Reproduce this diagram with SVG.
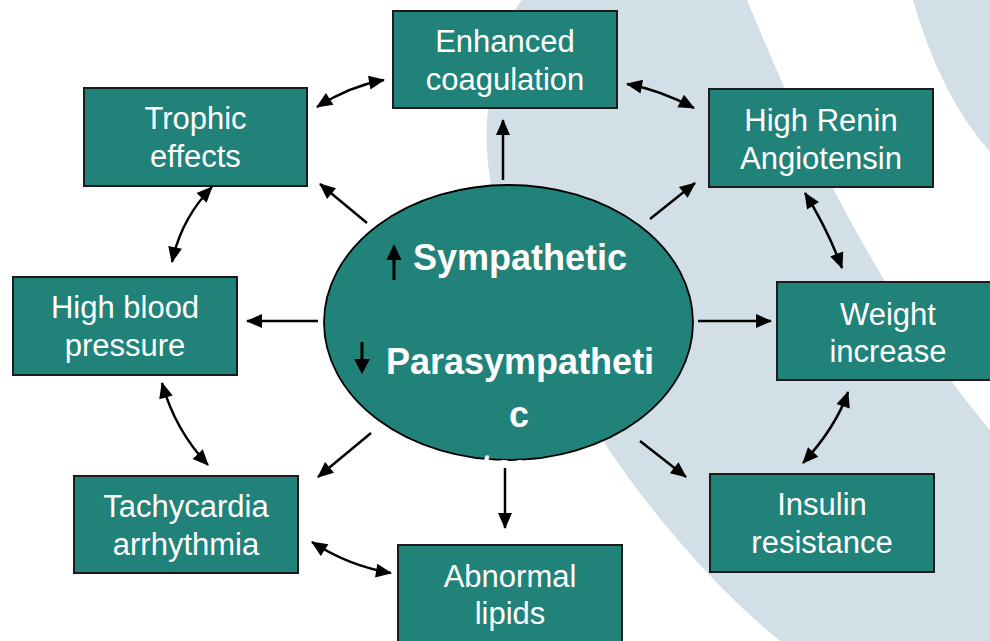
<svg xmlns="http://www.w3.org/2000/svg" width="990" height="641" viewBox="0 0 990 641">
  <defs>
    <style>
      .box { fill: #21827a; stroke: #1b1b1b; stroke-width: 2; }
      .hub { fill: #21827a; stroke: #000; stroke-width: 1.8; }
      .lbl { font-family: "Liberation Sans", Arial, sans-serif; font-size: 31px; fill: #fff; text-anchor: middle; }
      .hubtxt { font-family: "Liberation Sans", Arial, sans-serif; font-size: 36px; font-weight: bold; fill: #fff; }
      .link { fill: none; stroke: #000; stroke-width: 2.5; }
      .one { marker-end: url(#ah); }
      .two { marker-start: url(#ah); marker-end: url(#ah); }
    </style>
    <marker id="ah" markerUnits="userSpaceOnUse" markerWidth="16" markerHeight="14" refX="15" refY="7" orient="auto-start-reverse" overflow="visible">
      <path d="M0,0 L16,7 L0,14 z" fill="#000"/>
    </marker>
  </defs>

  <!-- page background with the pale swoosh bands -->
  <rect x="0" y="0" width="990" height="641" fill="#fff"/>
  <g id="backdrop" fill="#d2dfe6">
    <path d="M522,0 L747,0 C800,130 880,300 990,430 L990,641 L780,641 C620,510 470,260 488,110 C494,60 505,20 522,0 Z"/>
    <path d="M913,0 Q940,95 990,152 L990,0 Z"/>
  </g>

  <!-- outer nodes -->
  <g id="enhanced-coagulation">
    <rect class="box" x="393" y="11" width="224" height="97"/>
    <text class="lbl" x="505" y="52">Enhanced</text>
    <text class="lbl" x="505" y="90">coagulation</text>
  </g>
  <g id="trophic-effects">
    <rect class="box" x="84" y="88" width="223" height="98"/>
    <text class="lbl" x="195.5" y="129">Trophic</text>
    <text class="lbl" x="195.5" y="167">effects</text>
  </g>
  <g id="high-renin">
    <rect class="box" x="709" y="89" width="224" height="98"/>
    <text class="lbl" x="821" y="131">High Renin</text>
    <text class="lbl" x="821" y="169">Angiotensin</text>
  </g>
  <g id="high-blood-pressure">
    <rect class="box" x="13" y="277" width="224" height="98"/>
    <text class="lbl" x="125" y="318">High blood</text>
    <text class="lbl" x="125" y="356">pressure</text>
  </g>
  <g id="weight-increase">
    <rect class="box" x="777" y="282" width="224" height="98"/>
    <text class="lbl" x="888" y="325">Weight</text>
    <text class="lbl" x="888" y="362">increase</text>
  </g>
  <g id="insulin-resistance">
    <rect class="box" x="710" y="474" width="224" height="98"/>
    <text class="lbl" x="822" y="515">Insulin</text>
    <text class="lbl" x="822" y="553">resistance</text>
  </g>
  <g id="tachycardia">
    <rect class="box" x="74" y="476" width="224" height="97"/>
    <text class="lbl" x="186" y="517">Tachycardia</text>
    <text class="lbl" x="186" y="555">arrhythmia</text>
  </g>
  <g id="abnormal-lipids">
    <rect class="box" x="398" y="545" width="224" height="100"/>
    <text class="lbl" x="510" y="587">Abnormal</text>
    <text class="lbl" x="510" y="624">lipids</text>
  </g>

  <!-- central hub -->
  <g id="autonomic-hub">
    <ellipse class="hub" cx="508.5" cy="322.5" rx="184.5" ry="137.5"/>
    <line x1="394" y1="280" x2="394" y2="258" stroke="#000" stroke-width="3"/>
    <polygon points="386.5,260 394,244 401.5,260" fill="#000"/>
    <line x1="362" y1="342" x2="362" y2="362" stroke="#000" stroke-width="3"/>
    <polygon points="354,359 362,374 370,359" fill="#000"/>
    <text class="hubtxt" x="413" y="270">Sympathetic</text>
    <text class="hubtxt" x="386" y="374">Parasympatheti</text>
    <text class="hubtxt" x="519" y="427" text-anchor="middle">c</text>
    <text class="hubtxt" x="519" y="480" text-anchor="middle">tone</text>
  </g>

  <!-- connectors -->
  <g id="connectors">
    <line class="link one" x1="503" y1="180" x2="503" y2="120"/>
    <line class="link one" x1="367" y1="223" x2="320" y2="184"/>
    <line class="link one" x1="650" y1="219" x2="695" y2="183"/>
    <line class="link one" x1="318" y1="321" x2="247" y2="321"/>
    <line class="link one" x1="698" y1="321" x2="771" y2="321"/>
    <line class="link one" x1="371" y1="433" x2="318" y2="477"/>
    <line class="link one" x1="505" y1="468" x2="505" y2="528"/>
    <line class="link one" x1="640" y1="441" x2="686" y2="477"/>

    <path class="link two" d="M317,107 Q350,86 384,80"/>
    <path class="link two" d="M627,84 Q660,90 694,108"/>
    <path class="link two" d="M805,193 Q827,228 842,268"/>
    <path class="link two" d="M848,392 Q836,427 803,463"/>
    <path class="link two" d="M312,542 Q349,566 391,573"/>
    <path class="link two" d="M162,383 Q175,430 208,465"/>
    <path class="link two" d="M212,187 Q181,219 172,262"/>
  </g>
</svg>
